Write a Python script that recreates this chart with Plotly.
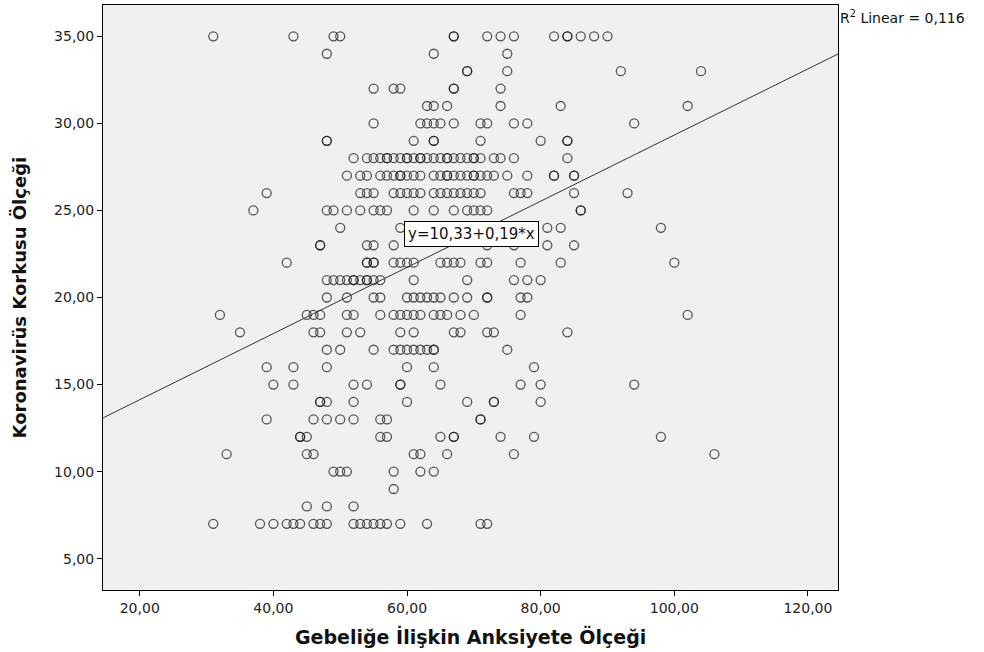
import plotly.graph_objects as go

# Anxiety-scale scores (x) of respondents, grouped by their fear score (y)
fear_35 = [31, 43, 49, 50, 67, 67, 72, 74, 76, 82, 84, 84, 86, 88, 90]
fear_34 = [48, 64, 75]
fear_33 = [69, 69, 75, 92, 104]
fear_32 = [55, 58, 59, 67, 67, 74]
fear_31 = [63, 64, 66, 74, 83, 102]
fear_30 = [55, 62, 63, 64, 65, 67, 71, 72, 76, 78, 94]
fear_29 = [48, 48, 61, 64, 64, 71, 80, 84, 84]
fear_28 = [52, 54, 55, 56, 57, 57, 58, 59, 60, 60, 61, 62, 62, 63, 64, 65, 66, 66,
           67, 68, 69, 70, 70, 71, 73, 74, 76, 84]
fear_27 = [51, 53, 54, 56, 57, 58, 59, 59, 60, 61, 62, 64, 65, 66, 66, 67, 68, 69,
           70, 70, 71, 72, 73, 75, 78, 82, 82, 85, 85]
fear_26 = [39, 53, 54, 55, 58, 59, 60, 61, 62, 64, 65, 66, 67, 68, 69, 70, 71, 76,
           77, 78, 85, 93]
fear_25 = [37, 48, 49, 51, 53, 55, 56, 57, 61, 64, 67, 69, 70, 71, 72, 86, 86]
fear_24 = [50, 59, 81, 83, 98]
fear_23 = [47, 47, 54, 55, 58, 72, 76, 81, 85]
fear_22 = [42, 54, 54, 55, 55, 58, 59, 60, 61, 65, 66, 67, 68, 71, 72, 77, 83, 100]
fear_21 = [48, 49, 50, 51, 52, 52, 53, 54, 54, 55, 56, 61, 69, 76, 78, 80]
fear_20 = [48, 51, 55, 56, 60, 61, 62, 63, 64, 65, 67, 69, 72, 72, 77, 78]
fear_19 = [32, 45, 46, 47, 51, 52, 56, 58, 59, 60, 61, 62, 64, 65, 66, 68, 70, 77, 102]
fear_18 = [35, 46, 47, 51, 53, 59, 61, 67, 68, 72, 73, 84]
fear_17 = [48, 50, 55, 58, 59, 60, 61, 62, 63, 64, 64, 75]
fear_16 = [39, 43, 48, 60, 64, 79]
fear_15 = [40, 43, 52, 54, 59, 59, 65, 77, 80, 94]
fear_14 = [47, 47, 48, 52, 60, 69, 73, 73, 80]
fear_13 = [39, 46, 48, 50, 52, 56, 57, 71, 71]
fear_12 = [44, 44, 45, 56, 57, 65, 67, 67, 74, 79, 98]
fear_11 = [33, 45, 46, 61, 62, 66, 76, 106]
fear_10 = [49, 50, 51, 58, 62, 64]
fear_9 = [58]
fear_8 = [45, 48, 52]
fear_7 = [31, 38, 40, 42, 43, 44, 46, 47, 48, 52, 53, 54, 55, 56, 57, 59, 63, 71, 72]

fear_levels = [35, 34, 33, 32, 31, 30, 29, 28, 27, 26, 25, 24, 23, 22, 21, 20, 19,
               18, 17, 16, 15, 14, 13, 12, 11, 10, 9, 8, 7]
fear_rows = [fear_35, fear_34, fear_33, fear_32, fear_31, fear_30, fear_29, fear_28,
             fear_27, fear_26, fear_25, fear_24, fear_23, fear_22, fear_21, fear_20,
             fear_19, fear_18, fear_17, fear_16, fear_15, fear_14, fear_13, fear_12,
             fear_11, fear_10, fear_9, fear_8, fear_7]

# Linear fit shown on the chart
fit_intercept = 10.33
fit_slope = 0.19
r_squared = 0.116

x_ticks = [20, 40, 60, 80, 100, 120]
y_ticks = [5, 10, 15, 20, 25, 30, 35]
x_range = [14.5, 124.5]
y_range = [3.2, 36.8]

x_title = "Gebeliğe İlişkin Anksiyete Ölçeği"
y_title = "Koronavirüs Korkusu Ölçeği"


def fmt(v, d=2):
    return f"{v:.{d}f}".replace(".", ",")


xs, ys = [], []
for level, row in zip(fear_levels, fear_rows):
    xs.extend(row)
    ys.extend([level] * len(row))

fig = go.Figure()
fig.add_trace(go.Scatter(
    x=xs, y=ys, mode="markers",
    marker=dict(symbol="circle-open", size=9, color="rgba(20,20,20,0.7)",
                line=dict(width=1.3)),
    hoverinfo="skip"))

line_x = list(x_range)
line_y = [fit_intercept + fit_slope * v for v in line_x]
fig.add_trace(go.Scatter(x=line_x, y=line_y, mode="lines",
                         line=dict(color="#333333", width=1), hoverinfo="skip"))

tick_font = dict(family="DejaVu Sans", size=14, color="#222222")

fig.update_layout(
    width=984, height=652,
    margin=dict(l=103, r=146, t=5, b=62),
    paper_bgcolor="white", plot_bgcolor="#F0F0F0",
    showlegend=False,
    xaxis=dict(range=x_range, tickvals=x_ticks, ticktext=[fmt(v) for v in x_ticks],
               ticks="outside", ticklen=5, tickcolor="black", tickfont=tick_font,
               showgrid=False, zeroline=False, showline=True, linecolor="black",
               linewidth=1, mirror=True),
    yaxis=dict(range=y_range, tickvals=y_ticks, ticktext=[fmt(v) for v in y_ticks],
               ticks="outside", ticklen=5, tickcolor="black", tickfont=tick_font,
               showgrid=False, zeroline=False, showline=True, linecolor="black",
               linewidth=1, mirror=True),
    annotations=[
        dict(text=f"<b>{x_title}</b>", xref="paper", yref="paper", x=0.5, y=-0.08,
             xanchor="center", yanchor="middle", showarrow=False,
             font=dict(family="DejaVu Sans", size=19, color="#111111")),
        dict(text=f"<b>{y_title}</b>", xref="paper", yref="paper", x=-0.113, y=0.5,
             xanchor="center", yanchor="middle", textangle=-90, showarrow=False,
             font=dict(family="DejaVu Sans", size=18, color="#111111")),
        dict(text=f"y={fmt(fit_intercept)}+{fmt(fit_slope)}*x", xref="x", yref="y",
             x=69.7, y=23.65, xanchor="center", yanchor="middle", showarrow=False,
             bgcolor="white", bordercolor="black", borderwidth=1, borderpad=3,
             font=dict(family="DejaVu Sans", size=15, color="#111111")),
        dict(text=f"R<sup>2</sup> Linear = {fmt(r_squared, 3)}", xref="paper",
             yref="paper", x=1.0, y=0.979, xanchor="left", yanchor="middle",
             showarrow=False, font=dict(family="DejaVu Sans", size=14, color="#111111")),
    ],
)

fig.write_html("out.html", config={"displayModeBar": False},
               post_script="document.body.style.margin='0px';")
